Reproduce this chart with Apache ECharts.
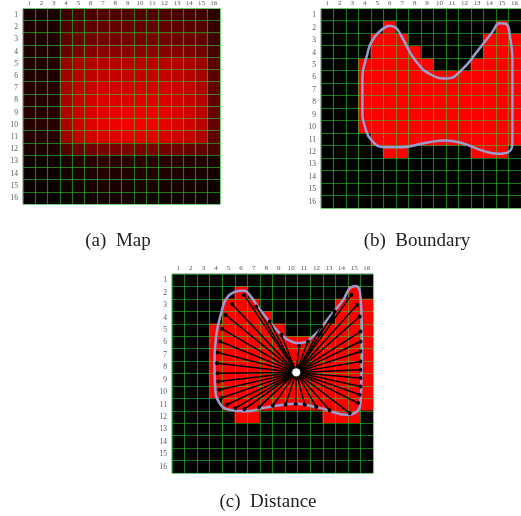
<!DOCTYPE html>
<html><head><meta charset="utf-8">
<script src="https://cdn.jsdelivr.net/npm/echarts@6/dist/echarts.min.js"></script>
<style>html,body{margin:0;padding:0;background:#fff}#c{width:521px;height:516px;filter:blur(0.4px)}</style>
</head><body><div id="c"></div>
<script>
// ---------- data ----------
const gridLabels = ['1','2','3','4','5','6','7','8','9','10','11','12','13','14','15','16'];

// (a) Map: red intensity (0-255) per cell, rows 1..16 top to bottom, cols 1..16
const mapRows = [
  [25,25,25, 60,70,75,80,80,80,80,80,80,75,70,65,45],
  [28,28,28, 75,88,95,100,100,100,100,100,100,95,90,82,55],
  [30,30,30, 90,105,112,118,118,118,118,118,116,112,108,98,62],
  [32,32,32, 105,125,135,140,140,140,140,140,138,135,128,115,72],
  [35,35,35, 150,170,180,185,185,185,185,185,185,180,172,155,90],
  [35,35,35, 160,182,192,198,198,198,198,198,198,192,185,165,95],
  [38,38,38, 165,190,202,210,210,210,210,210,210,205,195,172,98],
  [38,38,38, 168,195,210,218,222,222,222,222,220,212,202,180,100],
  [40,40,40, 170,200,218,228,234,236,236,234,230,222,208,185,102],
  [40,40,40, 170,202,222,232,240,244,244,240,232,222,208,185,102],
  [38,38,38, 160,190,208,218,225,228,228,225,218,208,195,172,95],
  [28,28,28, 80,105,115,120,122,124,124,122,118,112,105,98,72],
  [15,15,15, 30,38,40,42,42,42,42,42,40,38,35,32,25],
  [12,12,12, 25,30,32,34,34,34,34,34,32,30,28,26,20],
  [10,10,10, 20,24,26,28,28,28,28,28,26,24,22,20,15],
  [8,8,8, 15,18,20,22,22,22,22,22,20,18,16,15,12]
];

// (b)/(c) mask: 1 = red cell
const maskRows = [
  '0000000000000000',
  '0000010000000010',
  '0000111000000111',
  '0000111100000111',
  '0001111110001111',
  '0001111111111111',
  '0001111111111111',
  '0001111111111111',
  '0001111111111111',
  '0001111111111111',
  '0000111111111111',
  '0000011000001110',
  '0000000000000000',
  '0000000000000000',
  '0000000000000000',
  '0000000000000000'
];

// (b) boundary curve, in grid units (x: 0..16 from left, y: 0..16 from top)
const boundaryB = [
  [5.39,1.42],[4.32,2.28],[3.65,3.89],[3.31,6.03],[3.31,8.18],[3.52,9.5],[4.05,10.59],
  [5.12,11.13],[6.45,11.13],[8.32,10.8],[9.92,10.59],[11.25,10.8],[12.85,11.39],
  [14.19,11.66],[14.99,11.53],[15.31,10.59],[15.31,9.25],[15.31,7.37],[15.31,4.69],
  [15.12,2.28],[14.77,1.26],[14.32,1.21],[13.65,2.01],[12.59,3.35],[11.25,4.96],
  [10.05,5.63],[8.85,5.36],[7.52,4.16],[6.45,2.28],[5.92,1.53],[5.39,1.42]
];

// (c) boundary curve
const boundaryC = [
  [5.37,1.34],[4.44,1.82],[3.91,3.16],[3.51,5.03],[3.38,7.17],[3.43,9.04],[3.78,10.37],
  [4.57,10.91],[5.9,11.04],[7.23,10.78],[8.83,10.51],[9.89,10.43],[10.96,10.59],
  [12.29,10.91],[13.88,11.32],[14.55,11.18],[15.0,10.37],[15.08,8.5],[15.13,5.83],
  [15.08,3.16],[14.95,1.42],[14.63,0.96],[14.15,1.15],[13.62,2.09],[12.55,3.42],
  [11.22,5.03],[10.03,5.56],[9.23,5.29],[8.56,4.76],[7.23,3.16],[6.17,1.68],[5.77,1.34],[5.37,1.34]
];

// (c) centre point and ray end points
const centreC = [9.89, 7.91];
const rayEnds = [
  [5.72,1.68],[4.79,2.43],[4.26,3.29],[3.99,4.41],[3.83,5.43],[3.64,6.31],[3.59,7.17],
  [3.64,7.97],[3.70,8.64],[3.78,9.30],[3.91,9.97],[4.36,10.51],[5.05,10.78],[5.77,10.86],
  [6.91,10.72],[8.03,10.59],[9.04,10.51],[9.84,10.45],[10.56,10.51],[11.49,10.70],
  [12.55,10.96],[14.15,11.18],[14.81,10.37],[14.95,9.71],[15.0,9.04],[15.0,8.37],
  [15.0,7.70],[15.0,7.03],[15.0,6.23],[15.0,5.43],[15.0,4.63],[14.95,3.42],[14.73,2.49],
  [14.28,1.68],[12.95,3.02],[11.89,4.22],[10.82,5.43],[10.11,5.78],[8.70,4.89],
  [7.77,3.82],[6.70,2.62]
];

const captions = ['(a)  Map', '(b)  Boundary', '(c)  Distance'];

// ---------- build ----------
const mapData = [];
mapRows.forEach((row, r) => row.forEach((v, c) => mapData.push([c, r, v])));
const maskData = [];
maskRows.forEach((row, r) => row.split('').forEach((v, c) => maskData.push([c, r, +v])));

const rects = [
  {left: 23, top: 8, width: 197, height: 196},
  {left: 321, top: 8, width: 200, height: 200},
  {left: 172, top: 274, width: 201, height: 199}
];
const serif = '"Liberation Serif", "DejaVu Serif", serif';
const lineCol = 'rgba(40,215,40,0.55)';

const grids = [], xAxes = [], yAxes = [];
rects.forEach((r, i) => {
  grids.push(Object.assign({}, r));
  grids.push(Object.assign({}, r));
  const ci = 2 * i, vi = 2 * i + 1;
  xAxes.push({type: 'category', gridIndex: ci, data: gridLabels, position: 'top',
    axisLine: {show: false}, axisTick: {show: false}, splitLine: {show: false},
    axisLabel: {interval: 0, fontSize: 7, fontFamily: serif, color: '#555', margin: 2}});
  yAxes.push({type: 'category', gridIndex: ci, data: gridLabels, inverse: true,
    axisLine: {show: false}, axisTick: {show: false}, splitLine: {show: false},
    axisLabel: {interval: 0, fontSize: 7.5, fontFamily: serif, color: '#555', margin: 5}});
  xAxes.push({type: 'value', gridIndex: vi, min: 0, max: 16, interval: 1, z: 5,
    axisLine: {show: false}, axisTick: {show: false}, axisLabel: {show: false},
    splitLine: {show: true, lineStyle: {color: lineCol, width: 1.2}}});
  yAxes.push({type: 'value', gridIndex: vi, min: 0, max: 16, interval: 1, inverse: true, z: 5,
    axisLine: {show: false}, axisTick: {show: false}, axisLabel: {show: false},
    splitLine: {show: true, lineStyle: {color: lineCol, width: 1.2}}});
});

const option = {
  animation: false,
  backgroundColor: '#fff',
  title: [
    {text: captions[0], left: 113, top: 227, textAlign: 'center', textStyle: {fontFamily: serif, fontSize: 19, fontWeight: 'normal', color: '#222'}},
    {text: captions[1], left: 412, top: 227, textAlign: 'center', textStyle: {fontFamily: serif, fontSize: 19, fontWeight: 'normal', color: '#222'}},
    {text: captions[2], left: 263, top: 488, textAlign: 'center', textStyle: {fontFamily: serif, fontSize: 19, fontWeight: 'normal', color: '#222'}}
  ],
  grid: grids,
  xAxis: xAxes,
  yAxis: yAxes,
  visualMap: [
    {type: 'continuous', min: 0, max: 255, seriesIndex: 0, show: false, inRange: {color: ['#000000', '#ff0000']}},
    {type: 'piecewise', seriesIndex: [1, 3], show: false,
      pieces: [{value: 0, color: '#000000'}, {value: 1, color: '#ff0000'}]}
  ],
  series: [
    {type: 'heatmap', xAxisIndex: 0, yAxisIndex: 0, data: mapData, itemStyle: {borderWidth: 0}},
    {type: 'heatmap', xAxisIndex: 2, yAxisIndex: 2, data: maskData},
    {type: 'line', xAxisIndex: 3, yAxisIndex: 3, data: boundaryB, smooth: 0.5, showSymbol: false, symbol: 'none', z: 10,
      lineStyle: {color: '#9a9cd0', width: 2.5}},
    {type: 'heatmap', xAxisIndex: 4, yAxisIndex: 4, data: maskData},
    {type: 'line', xAxisIndex: 5, yAxisIndex: 5, data: boundaryC, smooth: 0.5, showSymbol: false, symbol: 'none', z: 10,
      lineStyle: {color: '#9a9cd0', width: 2.5}},
    {type: 'lines', coordinateSystem: 'cartesian2d', xAxisIndex: 5, yAxisIndex: 5, z: 11,
      symbol: ['none', 'circle'], symbolSize: 4,
      lineStyle: {color: '#000', width: 1.5, opacity: 1},
      data: rayEnds.map(e => ({coords: [centreC, e]}))},
    {type: 'scatter', xAxisIndex: 5, yAxisIndex: 5, z: 12, data: [centreC], symbolSize: 9,
      itemStyle: {color: '#fff', borderColor: '#222', borderWidth: 1, opacity: 1}}
  ]
};
const chart = echarts.init(document.getElementById('c'), null, {renderer: 'canvas'});
chart.setOption(option);
</script>
</body></html>
